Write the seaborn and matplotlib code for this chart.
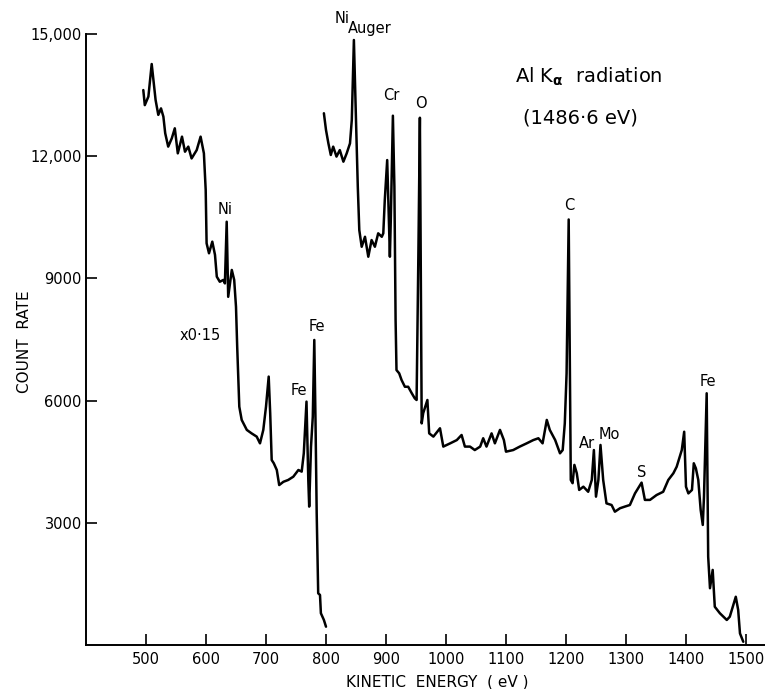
import matplotlib
matplotlib.use("Agg")
import matplotlib.pyplot as plt
import pandas as pd
import seaborn as sns

# ---- data ----
# low-energy trace (scaled x0.15)
low_energy = [495.5, 498, 504, 509.5, 516, 520.5, 525, 529, 532, 537, 543, 548, 553, 560,
              565, 570.5, 576, 584.5, 591, 596.5, 599.5, 601, 605, 610.5, 615, 618, 623,
              629, 631.5, 634.5, 637, 643, 647, 650, 652, 655.5, 659.5, 668, 676, 684.5,
              690, 695.5, 700, 704.5, 707, 709.5, 713, 718, 722, 729, 737, 745.5, 754,
              759.5, 763, 767.5, 770.5, 772, 775, 778, 780.5, 782.5, 784.5, 787, 790,
              791.5, 796.5, 800]
low_counts = [13630, 13260, 13470, 14270, 13385, 13020, 13180, 12975, 12570, 12240, 12445,
              12690, 12075, 12485, 12115, 12240, 11950, 12155, 12485, 12075, 11175, 9865,
              9620, 9905, 9580, 9045, 8920, 8965, 8880, 10395, 8550, 9210, 8965, 8305,
              7325, 5850, 5525, 5280, 5195, 5115, 4950, 5280, 5850, 6590, 5690, 4540, 4460,
              4295, 3925, 4005, 4050, 4130, 4295, 4255, 4705, 5975, 4050, 3395, 4865, 5605,
              7490, 5525, 3230, 1265, 1225, 775, 610, 445]

# high-energy trace
high_energy = [796.5, 800, 804, 808, 812, 817.5, 823, 829, 834.5, 840, 843, 846.5, 850, 853,
               855.5, 859.5, 865, 870.5, 876, 881.5, 887, 893, 895.5, 898, 902, 904.5,
               906.5, 908, 911.5, 914, 916, 917.5, 922, 926, 931.5, 937, 943, 948, 951,
               954, 956.5, 959.5, 962, 969, 972, 979, 990, 995.5, 1007, 1018, 1026,
               1031.5, 1040, 1048, 1057, 1062, 1067.5, 1076, 1081.5, 1090, 1096.5, 1100,
               1112, 1123, 1134.5, 1145.5, 1154, 1161, 1168, 1173, 1182, 1190, 1194.5,
               1198, 1201, 1204.5, 1208, 1211, 1214, 1218, 1222, 1229, 1237, 1243, 1246.5,
               1250, 1254, 1257.5, 1262, 1267.5, 1276, 1281.5, 1290, 1298, 1306.5, 1315,
               1326, 1331.5, 1340, 1351, 1362, 1370.5, 1379, 1384.5, 1393, 1397, 1400,
               1404, 1410, 1413, 1416.5, 1420.5, 1424.5, 1428, 1430, 1434.5, 1437, 1440,
               1444.5, 1448, 1456.5, 1468, 1473, 1483, 1487, 1490, 1495.5]
high_counts = [13060, 12650, 12320, 12035, 12240, 11995, 12155, 11870, 12075, 12320, 12895,
               14860, 12895, 11255, 10190, 9780, 10025, 9535, 9945, 9780, 10110, 10025,
               10110, 10930, 11910, 10600, 9535, 10435, 13000, 11255, 7980, 6750, 6670,
               6505, 6340, 6340, 6180, 6055, 6015, 9620, 12950, 5440, 5690, 6015, 5195,
               5115, 5320, 4870, 4950, 5030, 5155, 4870, 4870, 4785, 4870, 5075, 4870,
               5195, 4950, 5280, 5030, 4745, 4785, 4870, 4950, 5030, 5075, 4950, 5525,
               5280, 5030, 4705, 4785, 5440, 6670, 10450, 4050, 3970, 4420, 4215, 3805,
               3885, 3760, 4050, 4785, 3640, 4050, 4910, 4050, 3475, 3435, 3270, 3355,
               3395, 3435, 3720, 3985, 3560, 3560, 3680, 3760, 4050, 4215, 4375, 4785,
               5235, 3885, 3720, 3805, 4460, 4335, 4050, 3310, 2945, 3640, 6180, 2165,
               1390, 1840, 935, 775, 610, 690, 1180, 855, 280, 75]

x_ticks = [500, 600, 700, 800, 900, 1000, 1100, 1200, 1300, 1400, 1500]
y_ticks = [3000, 6000, 9000, 12000, 15000]
y_tick_labels = ["3000", "6000", "9000", "12,000", "15,000"]

# ---- figure ----
sns.set_theme(style="ticks")
plt.rcParams["font.family"] = ["DejaVu Sans"]

W, H = 765, 689
fig = plt.figure(figsize=(W / 100, H / 100), dpi=100)
ax = fig.add_axes([86 / W, (H - 644.8) / H, (W - 86) / W, (644.8 - 34.3) / H])

df_low = pd.DataFrame({"energy": low_energy, "counts": low_counts})
df_high = pd.DataFrame({"energy": high_energy, "counts": high_counts})
for df in (df_low, df_high):
    sns.lineplot(data=df, x="energy", y="counts", ax=ax, color="black",
                 linewidth=1.8, estimator=None, sort=False)

ax.set_xlim(400, 1531.7)
ax.set_ylim(0, 15000)
ax.set_xticks(x_ticks)
ax.set_xticklabels([str(t) for t in x_ticks])
ax.set_yticks(y_ticks)
ax.set_yticklabels(y_tick_labels)
ax.set_xlabel("")
ax.set_ylabel("")
sns.despine(ax=ax)
for s in ("left", "bottom"):
    ax.spines[s].set_linewidth(1.4)
    ax.spines[s].set_color("black")
ax.tick_params(axis="both", direction="in", length=8, width=1.2, colors="black",
               labelsize=10.5)
ax.tick_params(axis="y", pad=3)
ax.tick_params(axis="x", pad=5)

fs = 10.5
def lab(x, y, s, size=fs, ha="center"):
    ax.text(x, y, s, ha=ha, va="center", fontsize=size, color="black", clip_on=False)

lab(632.5, 10700, "Ni")
lab(590, 7610, "x0·15")
lab(755.5, 6260, "Fe")
lab(785, 7810, "Fe")
lab(826.7, 15380, "Ni")
lab(873, 15135, "Auger")
lab(909.5, 13500, "Cr")
lab(957.5, 13300, "O")
lab(1205, 10800, "C")
lab(1234.5, 4950, "Ar")
lab(1273, 5155, "Mo")
lab(1326, 4230, "S")
lab(1436, 6465, "Fe")
lab(1115, 13950, r"Al K$_{\mathbf{\alpha}}$  radiation", size=14, ha="left")
lab(1128, 12945, "(1486·6 eV)", size=14, ha="left")

fig.text(437.5 / W, 1 - 681.7 / H, "KINETIC  ENERGY  ( eV )", ha="center", va="center",
         fontsize=11, color="black")
fig.text(25 / W, 1 - 342 / H, "COUNT  RATE", ha="center", va="center", rotation=90,
         fontsize=11, color="black")

fig.savefig("out.png", dpi=100)
